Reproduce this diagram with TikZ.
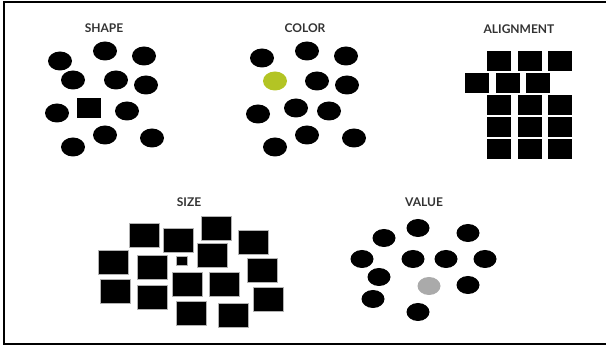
\documentclass[tikz,border=0pt]{standalone}
\usepackage{fontspec}
\setmainfont{Lato}
\usetikzlibrary{shapes.geometric}
\definecolor{lime}{HTML}{B3C424}
\definecolor{lgray}{HTML}{AAAAAA}
\tikzset{
  dot/.style={ellipse, fill=black, minimum width=24pt, minimum height=19pt, inner sep=0pt},
  sq/.style={fill=black, minimum width=24pt, minimum height=20pt, inner sep=0pt},
  big/.style={fill=black, draw=gray!60, line width=0.5pt, minimum width=30pt, minimum height=24pt, inner sep=0pt},
  ttl/.style={font=\fontsize{12}{13}\selectfont\bfseries, text=black!80, inner sep=0pt}
}
\begin{document}
\begin{tikzpicture}[x=1pt,y=-1pt]
\useasboundingbox (0,0) rectangle (606,347);
\begin{scope}
\clip (0,0) rectangle (606,347);
\draw[line width=2.5pt] (4,2) rectangle (620,344);
\end{scope}
% SHAPE
\node[ttl] (tshape) at (104,28) {SHAPE};
\node[dot] (s1) at (60,61) {};
\node[dot] (s2) at (105,51) {};
\node[dot] (s3) at (144,56) {};
\node[dot] (s4) at (73,80) {};
\node[dot] (s5) at (116,80) {};
\node[dot] (s6) at (146,85) {};
\node[dot] (s7) at (57,113) {};
\node[sq] (s8) at (89,108) {};
\node[dot] (s9) at (127,111) {};
\node[dot] (s10) at (105,135) {};
\node[dot] (s11) at (73,147) {};
\node[dot] (s12) at (152,138) {};
% COLOR
\node[ttl] (tcolor) at (305,28) {COLOR};
\node[dot] (c1) at (262,58) {};
\node[dot] (c2) at (307,51) {};
\node[dot] (c3) at (346,56) {};
\node[dot, fill=lime] (c4) at (275,81) {};
\node[dot] (c5) at (317,81) {};
\node[dot] (c6) at (347,85) {};
\node[dot] (c7) at (258,114) {};
\node[dot] (c8) at (296,108) {};
\node[dot] (c9) at (329,111) {};
\node[dot] (c10) at (307,135) {};
\node[dot] (c11) at (275,147) {};
\node[dot] (c12) at (354,138) {};
% ALIGNMENT
\node[ttl] (talign) at (519,29) {ALIGNMENT};
\node[sq] (a1) at (499,61) {};
\node[sq] (a2) at (529.5,61) {};
\node[sq] (a3) at (559.5,61) {};
\node[sq] (a4) at (477,83.5) {};
\node[sq] (a5) at (507.5,83.5) {};
\node[sq] (a6) at (538,83.5) {};
\node[sq] (a7) at (499,105.5) {};
\node[sq] (a8) at (529.5,105.5) {};
\node[sq] (a9) at (559.5,105.5) {};
\node[sq] (a10) at (499,127.5) {};
\node[sq] (a11) at (529.5,127.5) {};
\node[sq] (a12) at (559.5,127.5) {};
\node[sq] (a13) at (499,149.5) {};
\node[sq] (a14) at (529.5,149.5) {};
\node[sq] (a15) at (559.5,149.5) {};
% SIZE
\node[ttl] (tsize) at (189,202) {SIZE};
\node[big] (z1) at (144,235) {};
\node[big] (z2) at (178,240) {};
\node[big] (z3) at (216,228) {};
\node[big] (z4) at (253.5,242) {};
\node[big] (z5) at (113,262) {};
\node[big] (z6) at (152,267) {};
\node[big, minimum width=11pt, minimum height=9pt] (z7) at (181.5,260.5) {};
\node[big] (z8) at (212.5,255.5) {};
\node[big] (z9) at (262.5,270.5) {};
\node[big] (z10) at (115,291) {};
\node[big] (z11) at (152,297) {};
\node[big] (z12) at (187.5,284.5) {};
\node[big] (z13) at (224,284.5) {};
\node[big] (z14) at (268.5,299) {};
\node[big] (z15) at (191,313) {};
\node[big] (z16) at (233.5,315) {};
% VALUE
\node[ttl] (tvalue) at (424,202) {VALUE};
\node[dot, minimum width=23pt, minimum height=18pt] (v1) at (384,238) {};
\node[dot, minimum width=23pt, minimum height=18pt] (v2) at (418,228) {};
\node[dot, minimum width=23pt, minimum height=18pt] (v3) at (468,233) {};
\node[dot, minimum width=23pt, minimum height=18pt] (v4) at (362,259) {};
\node[dot, minimum width=23pt, minimum height=18pt] (v5) at (413,259) {};
\node[dot, minimum width=23pt, minimum height=18pt] (v6) at (446,259) {};
\node[dot, minimum width=23pt, minimum height=18pt] (v7) at (485,259) {};
\node[dot, minimum width=23pt, minimum height=18pt] (v8) at (379,277) {};
\node[dot, minimum width=23pt, minimum height=18pt, fill=lgray] (v9) at (429,286) {};
\node[dot, minimum width=23pt, minimum height=18pt] (v10) at (468,285) {};
\node[dot, minimum width=23pt, minimum height=18pt] (v11) at (373,299) {};
\node[dot, minimum width=23pt, minimum height=18pt] (v12) at (418,312) {};
\end{tikzpicture}
\end{document}
